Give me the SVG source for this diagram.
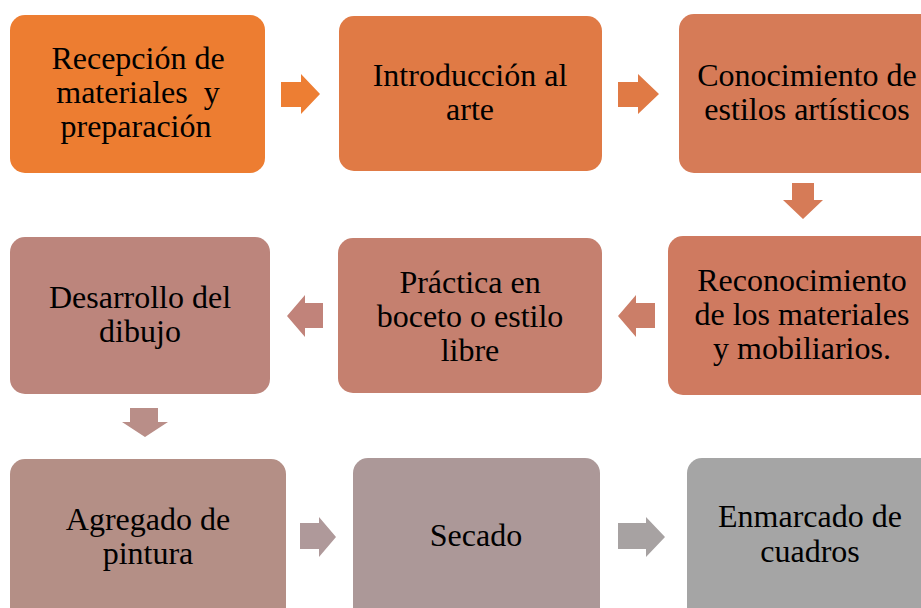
<svg xmlns="http://www.w3.org/2000/svg" width="921" height="608" viewBox="0 0 921 608">
<style>
text{font-family:'Liberation Serif','Times New Roman',serif;font-size:32px;fill:#000;text-anchor:middle}
</style>
<rect width="921" height="608" fill="#fff"/>
<g id="connectors">
<path d="M281 82H301V74L320 94L301 114V107H281Z" fill="#ED7E33"/>
<path d="M618 82H638V74L659 94L638 114V107H618Z" fill="#E07A45"/>
<path d="M792 183H814V200H823L803 219L783 200H792Z" fill="#D67B57"/>
<path d="M655 303H636V295L618 316L636 337V328H655Z" fill="#CB7E68"/>
<path d="M323 303H305V295L287 316L305 337V328H323Z" fill="#C1837A"/>
<path d="M130 408H158V422H168L145 437L122 422H130Z" fill="#B98E88"/>
<path d="M300 523H319V517L336 537L319 557V549H300Z" fill="#AF999A"/>
<path d="M618 523H646V517L665 537L646 557V549H618Z" fill="#A7A2A2"/>
</g>
<g id="n1"><rect x="10" y="15" width="255" height="158" rx="15" fill="#ED7D31"/>
<text x="138" y="69">Recepción de</text><text x="138" y="103" xml:space="preserve">materiales  y</text><text x="136" y="137">preparación</text></g>
<g id="n2"><rect x="339" y="16" width="263" height="155" rx="15" fill="#E07A45"/>
<text x="470" y="86">Introducción al</text><text x="470" y="120">arte</text></g>
<g id="n3"><rect x="679" y="14" width="258" height="159" rx="15" fill="#D67B57"/>
<text x="807" y="86">Conocimiento de</text><text x="807" y="120">estilos artísticos</text></g>
<g id="n4"><rect x="668" y="236" width="269" height="159" rx="15" fill="#CF7A60"/>
<text x="802" y="291">Reconocimiento</text><text x="802" y="325">de los materiales</text><text x="802" y="359">y mobiliarios.</text></g>
<g id="n5"><rect x="338" y="238" width="264" height="155" rx="15" fill="#C5806F"/>
<text x="470" y="293">Práctica en</text><text x="470" y="327">boceto o estilo</text><text x="470" y="361">libre</text></g>
<g id="n6"><rect x="10" y="237" width="260" height="157" rx="15" fill="#BC857C"/>
<text x="140" y="308">Desarrollo del</text><text x="140" y="342">dibujo</text></g>
<g id="n7"><rect x="10" y="459" width="276" height="170" rx="15" fill="#B48F86"/>
<text x="148" y="530">Agregado de</text><text x="148" y="564">pintura</text></g>
<g id="n8"><rect x="353" y="458" width="247" height="170" rx="15" fill="#AC9898"/>
<text x="476" y="546">Secado</text></g>
<g id="n9"><rect x="687" y="458" width="250" height="170" rx="15" fill="#A5A5A5"/>
<text x="810" y="527">Enmarcado de</text><text x="810" y="562">cuadros</text></g>
</svg>
